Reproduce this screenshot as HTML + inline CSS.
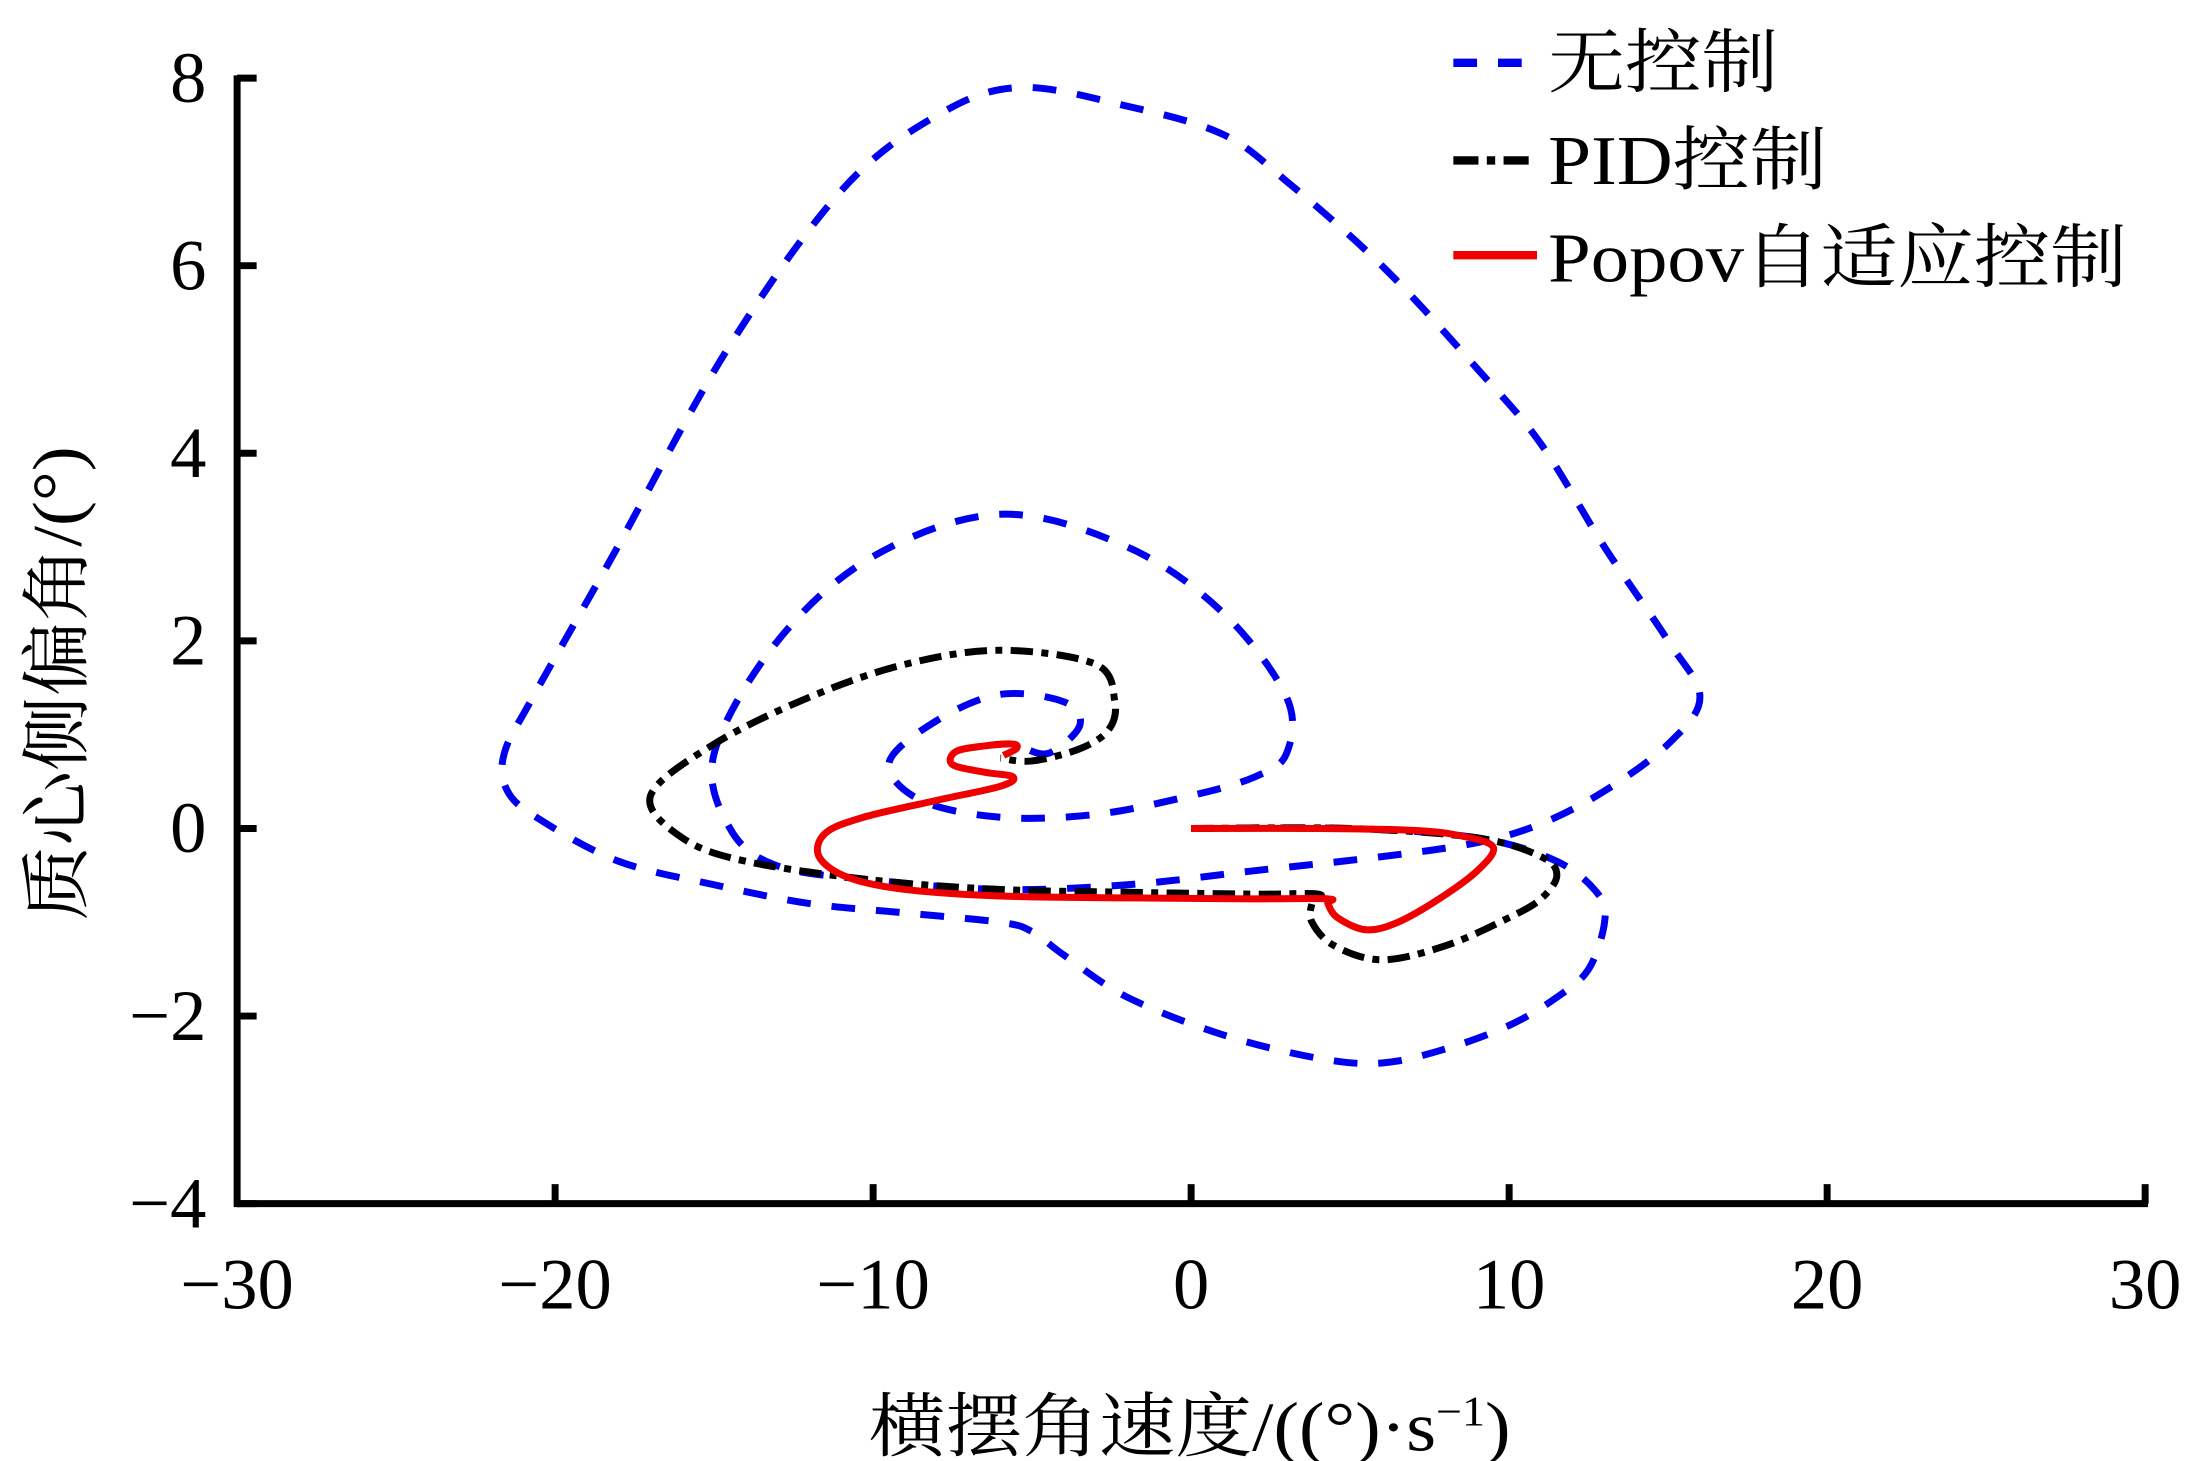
<!DOCTYPE html>
<html><head><meta charset="utf-8"><style>
html,body{margin:0;padding:0;background:#fff}
svg{display:block}
text{font-family:"Liberation Serif","Noto Serif CJK SC",serif;fill:#000}
</style></head><body>
<svg id="chart" width="2187" height="1461" viewBox="0 0 1568 1047.5" preserveAspectRatio="none" xmlns="http://www.w3.org/2000/svg">
<g id="axes"></g>
<g id="series"></g>
<g>
  <line x1="1042" y1="45" x2="1102" y2="45" stroke="#0000ee" stroke-width="6" stroke-dasharray="17,15"/>
  <text x="1110" y="62" font-size="50" textLength="165" lengthAdjust="spacingAndGlyphs">无控制</text>
  <line x1="1042" y1="115" x2="1102" y2="115" stroke="#000" stroke-width="6" stroke-dasharray="18,6,6,6"/>
  <text x="1110" y="132" font-size="50" textLength="200" lengthAdjust="spacingAndGlyphs">PID控制</text>
  <line x1="1042" y1="183" x2="1102" y2="183" stroke="#ee0000" stroke-width="6"/>
  <text x="1110" y="202" font-size="50" textLength="415" lengthAdjust="spacingAndGlyphs">Popov自适应控制</text>
</g>
<text x="853" y="1040" font-size="50" text-anchor="middle" textLength="460" lengthAdjust="spacingAndGlyphs">横摆角速度/((°)·s<tspan font-size="30" dy="-18">−1</tspan><tspan dy="18">)</tspan></text>
<text transform="translate(58,490) rotate(-90)" font-size="50" text-anchor="middle" textLength="340" lengthAdjust="spacingAndGlyphs">质心侧偏角/(°)</text>
</svg>
<script>
const xTicks=[-30,-20,-10,0,10,20,30];
const xTickLabels=["−30","−20","−10","0","10","20","30"];
const yTicks=[-4,-2,0,2,4,6,8];
const yTickLabels=["−4","−2","0","2","4","6","8"];
const noneX=[0,5,9,11.5,12.8,13,12.5,11.5,10,8,6,4,1,-2,-4,-5,-6,-9,-12,-15,-18,-20.5,-21.5,-21.6,-20.7,-18.2,-14.6,-11,-8,-5.4,-2,1,3,6,9,11,13,15,16,15,13,11,9,6,2,-2,-6,-10,-13,-14.5,-15,-13,-10,-6,-2,1,3,3,2,0,-3,-6,-8.5,-9.5,-8,-6,-4,-3.5,-4.5,-5.5];
const noneY=[0,0,-0.1,-0.35,-0.7,-1.0,-1.5,-1.8,-2.1,-2.35,-2.5,-2.45,-2.2,-1.8,-1.35,-1.1,-1.0,-0.9,-0.8,-0.6,-0.35,0.1,0.4,0.8,1.4,2.9,5.1,6.8,7.6,7.9,7.7,7.4,6.9,6.0,4.9,4.1,3.0,2.0,1.4,0.9,0.4,0.05,-0.15,-0.3,-0.45,-0.6,-0.65,-0.55,-0.4,0,0.8,2.0,2.9,3.35,3.0,2.3,1.4,0.8,0.55,0.35,0.15,0.12,0.3,0.7,1.15,1.43,1.35,1.1,0.8,0.9];
const pidX=[0,5,9,11,11.5,11,10,8,6,4.5,3.8,3.8,4,2,-2,-6,-10,-14,-16,-17,-15,-12,-9,-6,-3,-2.4,-2.6,-3.5,-5,-6];
const pidY=[0,0,-0.1,-0.3,-0.5,-0.75,-0.95,-1.25,-1.4,-1.25,-1.0,-0.8,-0.7,-0.7,-0.68,-0.65,-0.55,-0.35,-0.1,0.35,0.9,1.4,1.75,1.9,1.75,1.35,1.05,0.85,0.72,0.75];
const popX=[0,4,7,8.5,9.5,9,7.8,6.5,5.5,4.6,4.3,4.3,2,-2,-6,-9,-10.8,-11.7,-11.5,-10.3,-8,-6,-5.6,-6.5,-7.5,-7.4,-6.5,-5.6,-5.5,-5.9];
const popY=[0,0,-0.02,-0.08,-0.2,-0.45,-0.75,-1.0,-1.08,-0.95,-0.8,-0.75,-0.75,-0.74,-0.72,-0.65,-0.52,-0.3,-0.05,0.12,0.3,0.45,0.55,0.6,0.68,0.82,0.88,0.9,0.85,0.78];
const X0=170,XS=22.8,Y0=863,YS=67.25;
function sx(v){return X0+(v+30)*XS;}
function sy(v){return Y0-(v+4)*YS;}
const NS="http://www.w3.org/2000/svg";
function mk(tag,attrs,parent){const e=document.createElementNS(NS,tag);for(const k in attrs)e.setAttribute(k,attrs[k]);parent.appendChild(e);return e;}
const axes=document.getElementById('axes');
const xl=mk('line',{x1:sx(-30),y1:sy(-4),x2:sx(30)+2,y2:sy(-4),stroke:'#000','stroke-width':5},axes);


const yl=mk('line',{x1:sx(-30),y1:sy(-4)+2.5,x2:sx(-30),y2:sy(8)-2,stroke:'#000','stroke-width':5},axes);


xTicks.forEach((v,i)=>{
  if(i>0){const t=mk('line',{x1:sx(v),y1:sy(-4),x2:sx(v),y2:sy(-4)-14,stroke:'#000','stroke-width':5},axes);
  
  }
  const l=mk('text',{x:sx(v),y:sy(-4)+75,'font-size':52,'text-anchor':'middle'},axes);
  l.textContent=xTickLabels[i];
  
  
});
yTicks.forEach((v,i)=>{
  const t=mk('line',{x1:sx(-30),y1:sy(v),x2:sx(-30)+14,y2:sy(v),stroke:'#000','stroke-width':5},axes);
  
  
  const l=mk('text',{x:sx(-30)-22,y:sy(v)+17,'font-size':52,'text-anchor':'end'},axes);
  l.textContent=yTickLabels[i];
  
  
});
function pathD(xs,ys){
  const p=xs.map((x,i)=>[sx(x),sy(ys[i])]);
  let d='M'+p[0][0]+','+p[0][1];
  for(let i=0;i<p.length-1;i++){
    const a=p[Math.max(0,i-1)],b=p[i],c=p[i+1],e=p[Math.min(p.length-1,i+2)];
    const c1=[b[0]+(c[0]-a[0])/6,b[1]+(c[1]-a[1])/6],c2=[c[0]-(e[0]-b[0])/6,c[1]-(e[1]-b[1])/6];
    d+=' C'+c1[0]+','+c1[1]+' '+c2[0]+','+c2[1]+' '+c[0]+','+c[1];
  }
  return d;
}
const ser=document.getElementById('series');
const pn=mk('path',{d:pathD(noneX,noneY),fill:'none',stroke:'#0000ee','stroke-width':5,'stroke-dasharray':'17,15'},ser);


const pp=mk('path',{d:pathD(pidX,pidY),fill:'none',stroke:'#000','stroke-width':5,'stroke-dasharray':'16,6,5,6'},ser);


const pr=mk('path',{d:pathD(popX,popY),fill:'none',stroke:'#ee0000','stroke-width':5},ser);


</script>
</body></html>
